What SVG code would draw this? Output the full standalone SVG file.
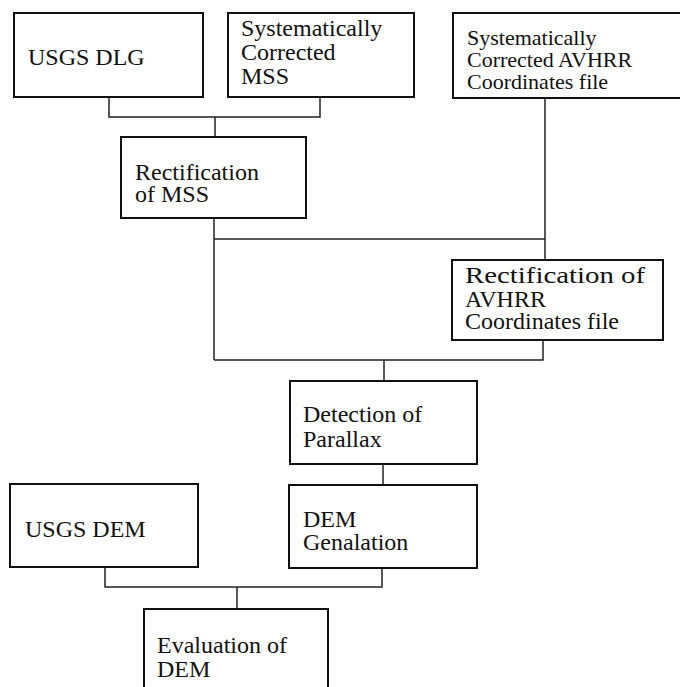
<svg xmlns="http://www.w3.org/2000/svg" width="680" height="687" viewBox="0 0 680 687">
<style>
.box{fill:#fff;stroke:#111;stroke-width:2}
.t{font-family:"Liberation Serif","Times New Roman",serif;font-size:24px;fill:#111}
.s{font-size:22px}
.c{fill:none;stroke:#222;stroke-width:1.5}
</style>
<rect width="680" height="687" fill="#fff"/>
<g id="connectors">
<polyline class="c" points="109,97 109,117 320,117 320,97"/>
<line class="c" x1="215" y1="117" x2="215" y2="137"/>
<line class="c" x1="545" y1="98" x2="545" y2="260"/>
<line class="c" x1="214" y1="218" x2="214" y2="360"/>
<line class="c" x1="214" y1="239" x2="545" y2="239"/>
<polyline class="c" points="214,360 543,360 543,340"/>
<line class="c" x1="384" y1="360" x2="384" y2="381"/>
<line class="c" x1="383" y1="464" x2="383" y2="485"/>
<polyline class="c" points="105,567 105,587 382,587 382,568"/>
<line class="c" x1="237" y1="587" x2="237" y2="609"/>
</g>
<g id="usgs-dlg">
<rect class="box" x="14" y="13" width="189" height="84"/>
<text class="t" x="28" y="65">USGS DLG</text>
</g>
<g id="sys-mss">
<rect class="box" x="228" y="13" width="186" height="84"/>
<text class="t" x="241" y="36">Systematically</text>
<text class="t" x="241" y="60">Corrected</text>
<text class="t" x="241" y="84">MSS</text>
</g>
<g id="sys-avhrr">
<rect class="box" x="453" y="13" width="230" height="85"/>
<text class="t s" x="467" y="45">Systematically</text>
<text class="t s" x="467" y="67">Corrected AVHRR</text>
<text class="t s" x="467" y="89">Coordinates file</text>
</g>
<g id="rect-mss">
<rect class="box" x="121" y="137" width="185" height="81"/>
<text class="t" x="135" y="180">Rectification</text>
<text class="t" x="135" y="202">of MSS</text>
</g>
<g id="rect-avhrr">
<rect class="box" x="452" y="260" width="211" height="80"/>
<text class="t" x="465" y="283" textLength="180" lengthAdjust="spacingAndGlyphs">Rectification of</text>
<text class="t" x="465" y="307">AVHRR</text>
<text class="t" x="465" y="329">Coordinates file</text>
</g>
<g id="detection">
<rect class="box" x="290" y="381" width="187" height="83"/>
<text class="t" x="303" y="422">Detection of</text>
<text class="t" x="303" y="447">Parallax</text>
</g>
<g id="usgs-dem">
<rect class="box" x="10" y="484" width="188" height="83"/>
<text class="t" x="25" y="537">USGS DEM</text>
</g>
<g id="dem-gen">
<rect class="box" x="289" y="485" width="188" height="83"/>
<text class="t" x="303" y="527">DEM</text>
<text class="t" x="303" y="550">Genalation</text>
</g>
<g id="evaluation">
<rect class="box" x="144" y="609" width="184" height="90"/>
<text class="t" x="157" y="653">Evaluation of</text>
<text class="t" x="157" y="677">DEM</text>
</g>
</svg>
